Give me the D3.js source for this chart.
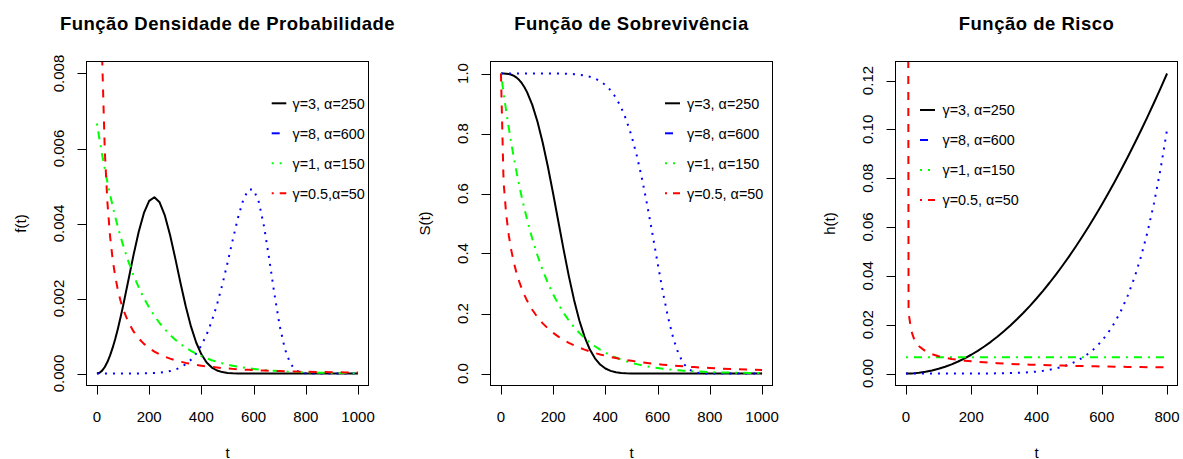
<!DOCTYPE html>
<html>
<head>
<meta charset="utf-8">
<script src="https://cdn.jsdelivr.net/npm/d3@7/dist/d3.min.js"></script>
<style>
  html, body { margin: 0; padding: 0; background: #ffffff; }
  svg { display: block; font-family: "Liberation Sans", Arial, sans-serif; }
</style>
</head>
<body>
<svg id="chart" width="1183" height="459"></svg>
<script>
// ---------- data ----------
// time grid shared by the density and survival panels
const tF = [0,10,20,30,40,50,60,70,80,90,100,120,140,160,180,200,220,240,260,280,300,320,340,360,380,400,420,440,460,480,500,520,540,560,580,600,620,640,660,680,700,720,740,760,780,800,850,900,950,1000];

// f(t) — density (red at t=0 is off the top of the plot)
const fBlack = [0,0.0000192,0.0000768,0.0001725,0.0003059,0.0004762,0.0006817,0.0009204,0.0011892,0.0014843,0.0018010,0.0024754,0.0031571,0.0037818,0.0042828,0.0046026,0.0047010,0.0045655,0.0042141,0.0036937,0.0030698,0.0024147,0.0017941,0.0012564,0.0008273,0.0005112,0.0002954,0.0001593,0.0000800,0.0000373,0.0000161,0.0000064,0.0000024,0.0000008,0,0,0,0,0,0,0,0,0,0,0,0,0,0,0,0];
const fBlue = [0,0,0,0,0,0,0,0,0,0,0,0.0000002,0.0000005,0.0000013,0.0000029,0.0000061,0.0000119,0.0000218,0.0000382,0.0000641,0.0001038,0.0001626,0.0002475,0.0003670,0.0005311,0.0007505,0.0010365,0.0013987,0.0018423,0.0023643,0.0029489,0.0035619,0.0041465,0.0046250,0.0049063,0.0049051,0.0045716,0.0039206,0.0030460,0.0021054,0.0012677,0.0006483,0.0002739,0.0000924,0.0000240,0.0000046,0,0,0,0];
const fGreen = [0.0066667,0.0062367,0.0058345,0.0054582,0.0051062,0.0047769,0.0044688,0.0041806,0.0039110,0.0036587,0.0034228,0.0029955,0.0026216,0.0022944,0.0020080,0.0017573,0.0015380,0.0013460,0.0011780,0.0010309,0.0009022,0.0007896,0.0006911,0.0006048,0.0005293,0.0004632,0.0004054,0.0003548,0.0003105,0.0002717,0.0002378,0.0002081,0.0001822,0.0001594,0.0001395,0.0001221,0.0001069,0.0000935,0.0000818,0.0000716,0.0000627,0.0000549,0.0000480,0.0000420,0.0000368,0.0000322,0.0000231,0.0000165,0.0000118,0.0000085];
const fRed = [1,0.014298,0.0084003,0.0059500,0.0045710,0.0036788,0.0030526,0.0025887,0.0022315,0.0019485,0.0017191,0.0013712,0.0011213,0.0009344,0.0007904,0.0006767,0.0005852,0.0005104,0.0004484,0.0003964,0.0003525,0.0003149,0.0002827,0.0002547,0.0002303,0.0002090,0.0001902,0.0001736,0.0001588,0.0001456,0.0001338,0.0001233,0.0001138,0.0001052,0.0000974,0.0000904,0.0000839,0.0000781,0.0000728,0.0000679,0.0000634,0.0000593,0.0000555,0.0000520,0.0000488,0.0000458,0.0000393,0.0000339,0.0000293,0.0000255];

// S(t) — survival
const sBlack = [1,0.99994,0.99949,0.99827,0.99591,0.99203,0.98627,0.97829,0.96776,0.95442,0.93800,0.89530,0.83894,0.76940,0.68849,0.59930,0.50587,0.41282,0.32470,0.24538,0.17764,0.12281,0.08083,0.05049,0.02984,0.01664,0.00872,0.00429,0.00197,0.00084,0.00034,0.00012,0.00004,0,0,0,0,0,0,0,0,0,0,0,0,0,0,0,0,0];
const sBlue = [1,1,1,1,1,1,1,1,1,1,1,1,1,1,0.99993,0.99985,0.99967,0.99934,0.99876,0.99775,0.99610,0.99348,0.98942,0.98334,0.97445,0.96173,0.94398,0.91976,0.88749,0.84555,0.79249,0.72740,0.65020,0.56224,0.46652,0.36788,0.27255,0.18716,0.11723,0.06575,0.03232,0.01357,0.00473,0.00132,0.00029,0.00005,0,0,0,0];
const sGreen = [1,0.935507,0.875173,0.818731,0.765928,0.716531,0.670320,0.627090,0.586646,0.548812,0.513417,0.449329,0.393241,0.344154,0.301194,0.263597,0.230693,0.201897,0.176694,0.154639,0.135335,0.118442,0.103658,0.090718,0.079394,0.069483,0.060810,0.053219,0.046576,0.040762,0.035674,0.031221,0.027324,0.023913,0.020928,0.018316,0.016029,0.014029,0.012277,0.010745,0.009404,0.008230,0.007203,0.006303,0.005517,0.004828,0.003460,0.002479,0.001777,0.001273];
const sRed = [1,0.639407,0.531286,0.460890,0.408842,0.367879,0.334391,0.306292,0.282264,0.261417,0.243117,0.212419,0.187623,0.167151,0.149963,0.135335,0.122748,0.111817,0.102248,0.093815,0.086338,0.079673,0.073706,0.068338,0.063494,0.059106,0.055118,0.051484,0.048164,0.045122,0.042323,0.039755,0.037391,0.035202,0.033177,0.031301,0.029559,0.027940,0.026432,0.025027,0.023715,0.022489,0.021342,0.020268,0.019261,0.018316,0.016185,0.014363,0.012787,0.011418];

// h(t) — hazard (red at t=0 is off the top of the plot)
const tH = [0,8,16,24,32,40,60,80,100,120,140,160,180,200,220,240,260,280,300,320,340,360,380,400,420,440,460,480,500,520,540,560,580,600,620,640,660,680,700,720,740,760,780,800];
const hBlack = [0,0.0000123,0.0000492,0.0001106,0.0001966,0.0003072,0.0006912,0.0012288,0.00192,0.0027648,0.0037632,0.0049152,0.0062208,0.00768,0.0092928,0.0110592,0.0129792,0.0150528,0.01728,0.0196608,0.0221952,0.0248832,0.0277248,0.03072,0.0338688,0.0371712,0.0406272,0.0442368,0.048,0.0519168,0.0559872,0.0602112,0.0645888,0.06912,0.0738048,0.0786432,0.0836352,0.0887808,0.09408,0.0995328,0.1051392,0.1108992,0.1168128,0.12288];
const hBlue = [0,0,0,0,0,0,0,0,0,0.0000002,0.0000005,0.0000013,0.0000029,0.0000061,0.0000119,0.0000218,0.0000383,0.0000643,0.0001042,0.0001637,0.0002502,0.0003733,0.0005450,0.0007804,0.0010981,0.0015207,0.0020758,0.0027962,0.0037211,0.0048967,0.0063773,0.0082262,0.0105166,0.0133333,0.0167734,0.0209479,0.0259829,0.0320216,0.0392253,0.0477757,0.0578765,0.0697549,0.0836647,0.0998870];
const hGreen = [0.0066667,0.0066667,0.0066667,0.0066667,0.0066667,0.0066667,0.0066667,0.0066667,0.0066667,0.0066667,0.0066667,0.0066667,0.0066667,0.0066667,0.0066667,0.0066667,0.0066667,0.0066667,0.0066667,0.0066667,0.0066667,0.0066667,0.0066667,0.0066667,0.0066667,0.0066667,0.0066667,0.0066667,0.0066667,0.0066667,0.0066667,0.0066667,0.0066667,0.0066667,0.0066667,0.0066667,0.0066667,0.0066667,0.0066667,0.0066667,0.0066667,0.0066667,0.0066667,0.0066667];
const hRed = [1,0.025,0.0176777,0.0144338,0.0125,0.0111803,0.0091287,0.0079057,0.0070711,0.0064550,0.0059761,0.0055902,0.0052705,0.005,0.0047673,0.0045644,0.0043853,0.0042258,0.0040825,0.0039528,0.0038348,0.0037268,0.0036274,0.0035355,0.0034503,0.0033710,0.0032969,0.0032275,0.0031623,0.0031009,0.0030429,0.0029881,0.0029361,0.0028868,0.0028398,0.0027951,0.0027524,0.0027116,0.0026726,0.0026352,0.0025994,0.0025649,0.0025318,0.0025];

// ticks and labels
const xTicksF = [0,200,400,600,800,1000];
const xTicksH = [0,200,400,600,800];
const yTicksF = [0,0.002,0.004,0.006,0.008];
const yLabelsF = ["0.000","0.002","0.004","0.006","0.008"];
const yTicksS = [0,0.2,0.4,0.6,0.8,1.0];
const yLabelsS = ["0.0","0.2","0.4","0.6","0.8","1.0"];
const yTicksH = [0,0.02,0.04,0.06,0.08,0.10,0.12];
const yLabelsH = ["0.00","0.02","0.04","0.06","0.08","0.10","0.12"];
const titles = ["Função Densidade de Probabilidade","Função de Sobrevivência","Função de Risco"];
const yTitles = ["f(t)","S(t)","h(t)"];
const legendF = ["γ=3, α=250","γ=8, α=600","γ=1, α=150","γ=0.5,α=50"];
const legendSH = ["γ=3, α=250","γ=8, α=600","γ=1, α=150","γ=0.5, α=50"];
const seriesColors = ["#000000","#0000ff","#00ff00","#ff0000"];

// ---------- drawing ----------
const svg = d3.select("#chart");
svg.append("rect").attr("width",1183).attr("height",459).attr("fill","#fff");

// line styles (R lty at lwd=2): plot lines and legend samples differ in the original
const plotDash = [null, "2,6", "2,6,8,6", "8,8"];
const legendDash = [null, "8,8", "2,6", "2,6,8,6"];

const panels = [
  { left:86.5, right:368.5, xDom:[-40,1040], yDom:[-0.00032,0.00832], t:tF,
    ys:[fBlack,fBlue,fGreen,fRed], xTicks:xTicksF, xLabels:xTicksF.map(String),
    yTicks:yTicksF, yLabels:yLabelsF, legend:legendF,
    legX1:271.7, legX2:286.3, legTX:292.5, legY:103.3 },
  { left:490.5, right:772.5, xDom:[-40,1040], yDom:[-0.04,1.04], t:tF,
    ys:[sBlack,sBlue,sGreen,sRed], xTicks:xTicksF, xLabels:xTicksF.map(String),
    yTicks:yTicksS, yLabels:yLabelsS, legend:legendSH,
    legX1:665, legX2:680, legTX:687, legY:103.3 },
  { left:895.5, right:1177.5, xDom:[-32,832], yDom:[-0.0049152,0.1277952], t:tH,
    ys:[hBlack,hBlue,hGreen,hRed], xTicks:xTicksH, xLabels:xTicksH.map(String),
    yTicks:yTicksH, yLabels:yLabelsH, legend:legendSH,
    legX1:920, legX2:935, legTX:942.5, legY:110 }
];
const plotTop = 61.5, plotBottom = 385.5;

panels.forEach((p, i) => {
  const x = d3.scaleLinear().domain(p.xDom).range([p.left, p.right]);
  const y = d3.scaleLinear().domain(p.yDom).range([plotBottom, plotTop]);
  const g = svg.append("g");

  const clipId = "clip" + i;
  svg.append("clipPath").attr("id", clipId)
    .append("rect").attr("x", p.left).attr("y", plotTop)
    .attr("width", p.right - p.left).attr("height", plotBottom - plotTop);

  const plot = g.append("g").attr("clip-path", `url(#${clipId})`);
  p.ys.forEach((vals, k) => {
    const pts = p.t.map((tt, j) => [tt, vals[j]]);
    const line = d3.line().x(d => x(d[0])).y(d => y(d[1]));
    const path = plot.append("path").datum(pts)
      .attr("d", line).attr("fill","none")
      .attr("stroke", seriesColors[k]).attr("stroke-width", 2)
      .attr("stroke-linejoin","round");
    if (plotDash[k]) path.attr("stroke-dasharray", plotDash[k]);
  });

  // box
  g.append("rect").attr("x", p.left).attr("y", plotTop)
    .attr("width", p.right - p.left).attr("height", plotBottom - plotTop)
    .attr("fill","none").attr("stroke","#000").attr("stroke-width",1);

  // x axis ticks
  p.xTicks.forEach((tv, j) => {
    const xx = Math.round(x(tv)) + 0.5;
    g.append("line").attr("x1", xx).attr("x2", xx).attr("y1", plotBottom).attr("y2", plotBottom + 9)
      .attr("stroke","#000").attr("stroke-width",1);
    g.append("text").attr("x", x(tv)).attr("y", 421.5).attr("text-anchor","middle")
      .attr("font-size", 15).attr("fill","#000").text(p.xLabels[j]);
  });
  // y axis ticks
  p.yTicks.forEach((tv, j) => {
    const yy = Math.round(y(tv)) + 0.5;
    g.append("line").attr("x1", p.left - 9).attr("x2", p.left).attr("y1", yy).attr("y2", yy)
      .attr("stroke","#000").attr("stroke-width",1);
    const tx = p.left - 22.5, ty = y(tv);
    g.append("text").attr("transform", `translate(${tx},${ty}) rotate(-90)`)
      .attr("text-anchor","middle").attr("font-size", 15).attr("fill","#000").text(p.yLabels[j]);
  });

  // titles
  const cx = (p.left + p.right) / 2;
  g.append("text").attr("x", cx).attr("y", 29.5).attr("text-anchor","middle")
    .attr("font-size", 18.5).attr("font-weight","bold").attr("letter-spacing", 0.5)
    .attr("fill","#000").text(titles[i]);
  g.append("text").attr("x", cx).attr("y", 457.5).attr("text-anchor","middle")
    .attr("font-size", 15).attr("fill","#000").text("t");
  g.append("text").attr("transform", `translate(${p.left - 61},${(plotTop + plotBottom) / 2}) rotate(-90)`)
    .attr("text-anchor","middle").attr("font-size", 15).attr("fill","#000").text(yTitles[i]);

  // legend (no border)
  p.legend.forEach((lab, k) => {
    const ly = p.legY + 30 * k;
    const seg = g.append("line").attr("x1", p.legX1).attr("x2", p.legX2)
      .attr("y1", ly).attr("y2", ly).attr("stroke", seriesColors[k]).attr("stroke-width", 2);
    if (legendDash[k]) seg.attr("stroke-dasharray", legendDash[k]);
    g.append("text").attr("x", p.legTX).attr("y", ly + 5.2)
      .attr("font-size", 14.4).attr("fill","#000").text(lab);
  });
});
</script>
</body>
</html>
